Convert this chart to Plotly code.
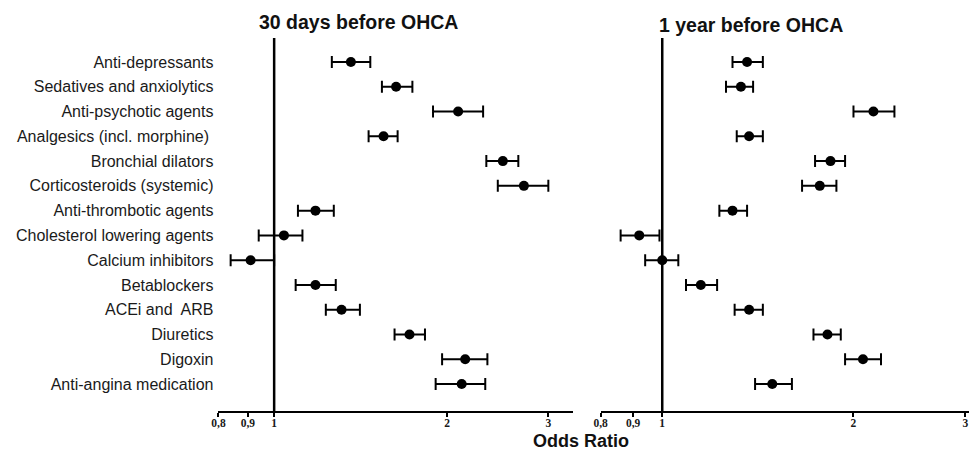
import math
import plotly.graph_objects as go

categories = [
    "Anti-depressants", "Sedatives and anxiolytics", "Anti-psychotic agents",
    "Analgesics (incl. morphine) ", "Bronchial dilators", "Corticosteroids (systemic)",
    "Anti-thrombotic agents", "Cholesterol lowering agents", "Calcium inhibitors",
    "Betablockers", "ACEi and  ARB", "Diuretics", "Digoxin", "Anti-angina medication",
]

# 30 days before OHCA
or_30d = [1.36, 1.63, 2.09, 1.55, 2.50, 2.72, 1.18, 1.04, 0.91, 1.18, 1.31, 1.72, 2.15, 2.12]
lo_30d = [1.26, 1.54, 1.89, 1.46, 2.34, 2.45, 1.10, 0.94, 0.84, 1.09, 1.23, 1.62, 1.96, 1.91]
hi_30d = [1.47, 1.74, 2.31, 1.64, 2.66, 3.00, 1.27, 1.12, 1.00, 1.28, 1.41, 1.83, 2.35, 2.33]

# 1 year before OHCA
or_1y = [1.36, 1.33, 2.15, 1.37, 1.84, 1.77, 1.29, 0.92, 1.00, 1.15, 1.37, 1.82, 2.07, 1.49]
lo_1y = [1.29, 1.26, 2.00, 1.31, 1.74, 1.66, 1.23, 0.86, 0.94, 1.09, 1.30, 1.73, 1.94, 1.40]
hi_1y = [1.44, 1.39, 2.32, 1.44, 1.94, 1.88, 1.36, 0.99, 1.06, 1.22, 1.44, 1.91, 2.21, 1.60]

tick_vals = [0.8, 0.9, 1, 2, 3]
tick_text = ["0,8", "0,9", "1", "2", "3"]

W, H = 969, 452
rows = list(range(len(categories)))

fig = go.Figure()

def add_panel(orv, lo, hi, xa):
    fig.add_trace(go.Scatter(
        x=orv, y=rows, mode="markers", xaxis=xa, yaxis="y",
        marker=dict(color="black", size=10, symbol="circle"),
        error_x=dict(type="data", symmetric=False,
                     array=[h - o for h, o in zip(hi, orv)],
                     arrayminus=[o - l for o, l in zip(orv, lo)],
                     color="black", thickness=2, width=6),
        showlegend=False, hoverinfo="skip",
    ))

add_panel(or_30d, lo_30d, hi_30d, "x")
add_panel(or_1y, lo_1y, hi_1y, "x2")

xcommon = dict(
    type="log", showgrid=False, zeroline=False, showline=True,
    linecolor="black", linewidth=2, ticks="outside", ticklen=4, tickwidth=1.5,
    tickcolor="black", tickvals=tick_vals, ticktext=tick_text, ticklabelstandoff=-4,
    tickfont=dict(family="Liberation Serif", size=11.5, color="#1a1a1a", weight="bold"),
    anchor="y",
)

fig.update_layout(
    width=W, height=H,
    margin=dict(l=0, r=0, t=0, b=0),
    paper_bgcolor="white", plot_bgcolor="white",
    xaxis=dict(domain=[213 / W, 570 / W], range=[math.log10(0.8), math.log10(3.31)], **xcommon),
    xaxis2=dict(domain=[598 / W, 1.0], range=[math.log10(0.8), math.log10(3.04)], **xcommon),
    yaxis=dict(domain=[1 - 411 / H, 1 - 38 / H], range=[14.09, -0.97],
               tickvals=rows, ticktext=categories, showgrid=False, zeroline=False,
               showline=False, ticks="", ticklabelstandoff=4,
               tickfont=dict(family="Liberation Sans", size=16, color="#1a1a1a")),
    shapes=[
        dict(type="line", xref="x", yref="y domain", x0=1, x1=1, y0=0, y1=1,
             line=dict(color="black", width=2.5)),
        dict(type="line", xref="x2", yref="y domain", x0=1, x1=1, y0=0, y1=1,
             line=dict(color="black", width=2.5)),
    ],
    annotations=[
        dict(text="<b>30 days before OHCA</b>", xref="paper", yref="paper",
             x=354 / W, y=1 - 22 / H, xanchor="center", yanchor="middle", showarrow=False,
             font=dict(family="Liberation Sans", size=19.5, color="#111")),
        dict(text="<b>1 year before OHCA</b>", xref="paper", yref="paper",
             x=749.5 / W, y=1 - 25 / H, xanchor="center", yanchor="middle", showarrow=False,
             font=dict(family="Liberation Sans", size=19.5, color="#111")),
        dict(text="<b>Odds Ratio</b>", xref="paper", yref="paper",
             x=578.5 / W, y=0, xanchor="center", yanchor="bottom", showarrow=False,
             borderpad=0,
             font=dict(family="Liberation Sans", size=18, color="#111")),
    ],
)

fig.write_html(
    "out.html",
    config={"displayModeBar": False},
    post_script="document.body.style.margin='0';document.body.style.overflow='hidden';",
)
